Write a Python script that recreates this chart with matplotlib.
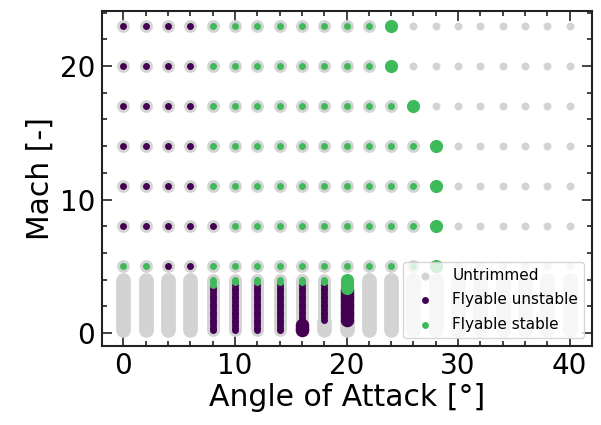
import numpy as np
import matplotlib.pyplot as plt

# trim sweep: angle of attack [deg]
aoa = [0, 2, 4, 6, 8, 10, 12, 14, 16, 18, 20, 22, 24, 26, 28, 30, 32, 34, 36, 38, 40]

# high Mach rows
row_mach = [23, 20, 17, 14, 11, 8, 5]
row_unstable = [[0, 2, 4, 6],
                [0, 2, 4, 6],
                [0, 2, 4, 6],
                [0, 2, 4, 6],
                [0, 2, 4, 6],
                [0, 2, 4, 6, 8],
                [4, 6]]
row_stable = [[8, 10, 12, 14, 16, 18, 20, 22],
              [8, 10, 12, 14, 16, 18, 20, 22],
              [8, 10, 12, 14, 16, 18, 20, 22, 24],
              [8, 10, 12, 14, 16, 18, 20, 22, 24, 26],
              [8, 10, 12, 14, 16, 18, 20, 22, 24, 26],
              [10, 12, 14, 16, 18, 20, 22, 24, 26],
              [0, 2, 8, 10, 12, 14, 16, 18, 20, 22, 24, 26]]
# last trimmed alpha on each row
row_edge = [24, 24, 26, 28, 28, 28, 28]

# low Mach sweep
low_mach = [0.2, 0.4, 0.6, 0.8, 1.0, 1.2, 1.4, 1.6, 1.8, 2.0,
            2.2, 2.4, 2.6, 2.8, 3.0, 3.2, 3.4, 3.6, 3.8, 4.0]
col_aoa = [8, 10, 12, 14, 16, 18, 20]
col_unstable_min = [0.2, 0.2, 0.2, 0.2, 0.2, 1.0, 1.0]
col_stable_min = [3.6, 3.8, 3.8, 3.8, 3.8, 3.8, 3.4]
col_big_max = [-1, -1, -1, -1, 0.6, -1, 4.0]

GREY = '#d3d3d3'
PURPLE = '#440154'
GREEN = '#3fba5b'

# sort every grid point into a category
untr_hi, untr_lo = [], []
unst, stab, unst_big, stab_big = [], [], [], []
for m, us, st, ed in zip(row_mach, row_unstable, row_stable, row_edge):
  for a in aoa:
    if a in us:
      unst.append((a, m))
    elif a in st:
      stab.append((a, m))
    elif a == ed:
      stab_big.append((a, m))
    else:
      untr_hi.append((a, m))

for a in aoa:
  for m in low_mach:
    if a not in col_aoa:
      untr_lo.append((a, m))
      continue
    i = col_aoa.index(a)
    big = m <= col_big_max[i] + 1e-9
    if m >= col_stable_min[i] - 1e-9:
      (stab_big if big else stab).append((a, m))
    elif m >= col_unstable_min[i] - 1e-9:
      (unst_big if big else unst).append((a, m))
    else:
      untr_lo.append((a, m))

def xy(pts):
  p = np.array(pts, dtype=float)
  return p[:, 0], p[:, 1]

fig = plt.figure(figsize=(6.01, 4.25), dpi=100)
ax = fig.add_axes([0.17, 0.187, 0.815, 0.786])

x, y = xy(untr_hi)
ax.scatter(x, y, s=33, c=GREY, lw=0, zorder=2, label='Untrimmed')
x, y = xy(untr_lo)
ax.scatter(x, y, s=110, c=GREY, lw=0, zorder=2)

# grey halo under the trimmed points
x, y = xy(unst + stab)
ax.scatter(x, y, s=85, c=GREY, lw=0, zorder=2)

x, y = xy(unst)
ax.scatter(x, y, s=25, c=PURPLE, lw=0, zorder=3, label='Flyable unstable')
x, y = xy(unst_big)
ax.scatter(x, y, s=95, c=PURPLE, lw=0, zorder=3)
x, y = xy(stab)
ax.scatter(x, y, s=25, c=GREEN, lw=0, zorder=4, label='Flyable stable')
x, y = xy(stab_big)
ax.scatter(x, y, s=90, c=GREEN, lw=0, zorder=4)

ax.set_xlim(-1.9, 42)
ax.set_ylim(-0.95, 24.1)
ax.set_xticks([0, 10, 20, 30, 40])
ax.set_xticks(aoa, minor=True)
ax.set_yticks([0, 10, 20])
ax.set_yticks([2, 4, 6, 8, 12, 14, 16, 18, 22, 24], minor=True)
ax.tick_params(which='both', direction='in', top=True, right=True,
               labelsize=20, width=1.2, color='#222222')
ax.tick_params(which='major', length=7.5, pad=5)
ax.tick_params(which='minor', length=3.8)
for s in ax.spines.values():
  s.set_linewidth(1.5)
  s.set_color('#222222')

ax.set_xlabel('Angle of Attack [°]', fontsize=21.5, labelpad=2)
ax.set_ylabel('Mach [-]', fontsize=21.5, labelpad=4)

ax.legend(loc='lower right', fontsize=11, markerscale=1.0, handletextpad=0.8,
          labelspacing=0.62, borderaxespad=0.5)

fig.savefig('out.png', dpi=100)
